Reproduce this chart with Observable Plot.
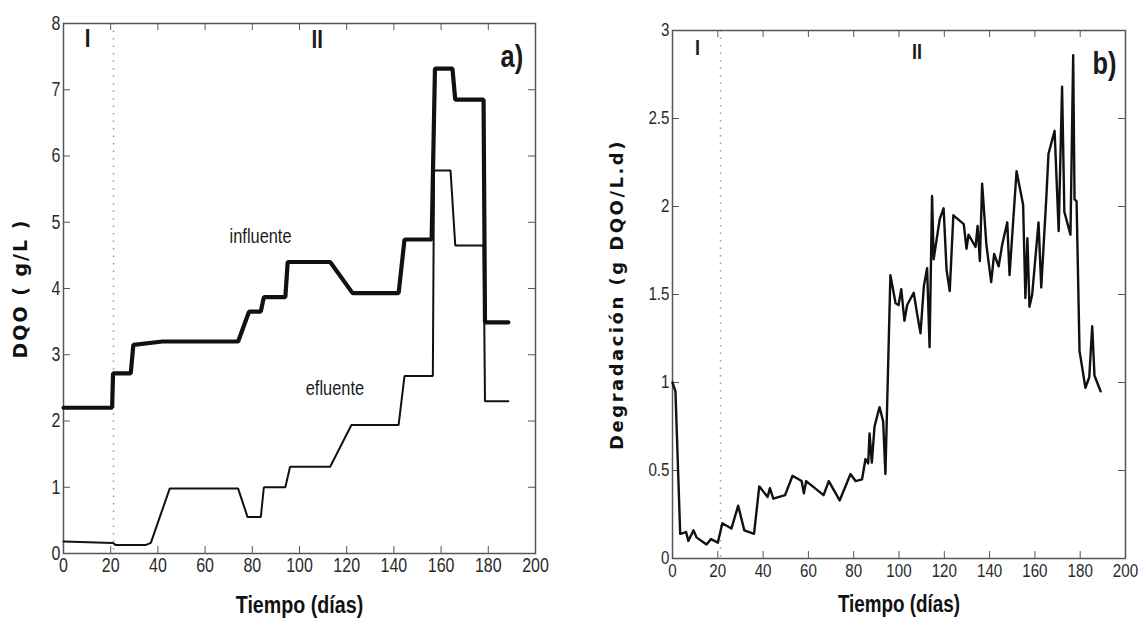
<!DOCTYPE html>
<html>
<head>
<meta charset="utf-8">
<script src="https://cdn.jsdelivr.net/npm/d3@7"></script>
<script src="https://cdn.jsdelivr.net/npm/@observablehq/plot@0.6"></script>
<style>
  html, body { margin: 0; padding: 0; background: #fff; }
  #wrap { position: relative; width: 1140px; height: 624px; overflow: hidden; background: #fff; }
  #wrap > div { position: absolute; top: 0; }
  #pa { left: 0; }
  #pb { left: 570px; }
</style>
</head>
<body>
<div id="wrap"><div id="pa"></div><div id="pb"></div></div>
<script>
// ---------- data ----------
const xTicks = [0, 20, 40, 60, 80, 100, 120, 140, 160, 180, 200];
const yTicksA = [0, 1, 2, 3, 4, 5, 6, 7, 8];
const yTicksB = [0, 0.5, 1, 1.5, 2, 2.5, 3];
const phaseBoundary = [21.2];

// panel a) influente (DQO g/L)
const infDays   = [0, 20.6, 21, 28.5, 29.6, 42, 74, 78.6, 83.6, 84.9, 94, 95, 113, 122.5, 142, 144.5, 156, 157.4, 164.8, 166, 178, 178.6, 188.5];
const infValues = [2.2, 2.2, 2.72, 2.72, 3.15, 3.2, 3.2, 3.65, 3.65, 3.87, 3.87, 4.4, 4.4, 3.93, 3.93, 4.74, 4.74, 7.32, 7.32, 6.85, 6.85, 3.49, 3.49];
// panel a) efluente (DQO g/L)
const effDays   = [0, 21, 22, 35, 37, 45, 74, 78, 83.6, 84.9, 94, 96, 113, 122, 142, 144.5, 156.5, 157, 164, 166, 178, 178.6, 188.5];
const effValues = [0.18, 0.16, 0.13, 0.13, 0.16, 0.98, 0.98, 0.55, 0.55, 1.0, 1.0, 1.31, 1.31, 1.94, 1.94, 2.68, 2.68, 5.78, 5.78, 4.65, 4.65, 2.3, 2.3];

// panel b) degradación (g DQO/L.d)
const degDays = [0, 1.3, 3.4, 6, 7, 9.3, 10.6, 15, 17, 20, 22, 26, 29, 31.7, 36, 38.3, 42, 43, 44.5, 49.7, 53, 57, 58, 59, 66.7, 69, 73.8, 78.6, 80.8, 83.7, 85.2, 86.4, 87, 88, 89.2, 91.4, 93, 94, 96.2, 98.5, 99.8, 101, 102.4, 103.6, 106.5, 108, 109.5, 111, 112.4, 113.5, 114.6, 115.3, 118, 119.7, 121, 122.4, 124, 128.6, 129.8, 130.7, 133.8, 134.7, 135.7, 136.7, 138.6, 140.7, 142, 144, 145.5, 147.8, 148.8, 151.9, 154.8, 155.8, 156.7, 157.6, 158.8, 161.6, 162.8, 165, 166, 168.7, 170.5, 172, 173, 175.7, 176.9, 177.5, 178.4, 179.7, 182.3, 184, 185.3, 186.3, 189];
const degValues = [1.0, 0.95, 0.14, 0.15, 0.10, 0.16, 0.12, 0.08, 0.11, 0.09, 0.20, 0.17, 0.30, 0.16, 0.14, 0.41, 0.35, 0.40, 0.34, 0.36, 0.47, 0.44, 0.37, 0.44, 0.36, 0.44, 0.33, 0.48, 0.44, 0.45, 0.565, 0.54, 0.71, 0.545, 0.75, 0.86, 0.78, 0.48, 1.61, 1.45, 1.44, 1.53, 1.35, 1.44, 1.51, 1.39, 1.28, 1.55, 1.65, 1.20, 2.06, 1.70, 1.93, 1.99, 1.64, 1.52, 1.95, 1.90, 1.76, 1.84, 1.77, 1.89, 1.69, 2.13, 1.78, 1.57, 1.73, 1.66, 1.78, 1.91, 1.61, 2.20, 2.01, 1.48, 1.82, 1.43, 1.50, 1.91, 1.54, 2.04, 2.30, 2.43, 1.86, 2.68, 1.97, 1.84, 2.86, 2.04, 2.03, 1.18, 0.97, 1.03, 1.32, 1.04, 0.95];

// annotations
const notesA = [
  {t: "I", x: 10.2, y: 7.76, size: 25, weight: "bold"},
  {t: "II", x: 107.5, y: 7.75, size: 25, weight: "bold"},
  {t: "a)", x: 190, y: 7.5, size: 31, weight: "bold"},
  {t: "influente", x: 83.5, y: 4.78, size: 20, weight: "normal"},
  {t: "efluente", x: 115, y: 2.49, size: 20, weight: "normal"}
];
const notesB = [
  {t: "I", x: 11, y: 2.9, size: 22, weight: "bold"},
  {t: "II", x: 108, y: 2.88, size: 22, weight: "bold"},
  {t: "b)", x: 190.7, y: 2.81, size: 31, weight: "bold"}
];

const xLabel = "Tiempo (días)";
const yLabelA = "DQO ( g/L )";
const yLabelB = "Degradación (g DQO/L.d)";

// ---------- tables ----------
const inf = infDays.map((d, i) => ({day: d, v: infValues[i]}));
const eff = effDays.map((d, i) => ({day: d, v: effValues[i]}));
const deg = degDays.map((d, i) => ({day: d, v: degValues[i]}));

const COND = "'Liberation Sans', Arial, sans-serif";   // narrowed below (condensed look)
const WIDE = "'DejaVu Sans', Verdana, sans-serif";
const NARROW = 0.82;

function panel({ml, mr, mt, mb, yDomain, yTicks, yLabel, yLabelDx, yLabelSize, xLabelDy, xLabelSize, lines, notes, tickFont}) {
  const W = 570, H = 624;
  const iw = W - ml - mr, ih = H - mt - mb, tl = 7;
  const noteMarks = notes.map(n => Plot.text([n], {
    x: "x", y: "y", text: "t", fontSize: n.size, fontWeight: n.weight,
    fontFamily: COND, fill: "#1a1a1a"
  }));
  return Plot.plot({
    width: W, height: H,
    marginLeft: ml, marginRight: mr, marginTop: mt, marginBottom: mb,
    style: {fontFamily: COND, fontSize: tickFont + "px", color: "#2a2a2a", background: "transparent", overflow: "visible"},
    x: {domain: [0, 200], ticks: xTicks, tickSize: 0, tickPadding: 5, label: null, tickFormat: d => String(d)},
    y: {domain: yDomain, ticks: yTicks, tickSize: 0, tickPadding: 3, label: null, tickFormat: d => String(d)},
    marks: [
      Plot.ruleX(phaseBoundary, {stroke: "#9a9a9a", strokeWidth: 1.5, strokeDasharray: "1.5,6"}),
      Plot.tickX(xTicks, {x: d => d, insetTop: ih - tl, stroke: "#555"}),
      Plot.tickX(xTicks, {x: d => d, insetBottom: ih - tl, stroke: "#555"}),
      Plot.tickY(yTicks, {y: d => d, insetRight: iw - tl, stroke: "#555"}),
      Plot.tickY(yTicks, {y: d => d, insetLeft: iw - tl, stroke: "#555"}),
      Plot.frame({stroke: "#555", strokeWidth: 1.5}),
      ...lines,
      ...noteMarks,
      Plot.text([xLabel], {text: d => d, frameAnchor: "bottom", textAnchor: "middle", dy: xLabelDy, fontSize: xLabelSize, fontWeight: "bold", fontFamily: COND, fill: "#111"}),
      Plot.text([yLabel], {text: d => d, frameAnchor: "left", textAnchor: "middle", dx: yLabelDx, rotate: -90, fontSize: yLabelSize, fontWeight: "bold", fontFamily: WIDE, fill: "#111"})
    ]
  });
}

// give the condensed-Helvetica look of the original: narrow every upright text,
// and letter-space the rotated (wide) y labels
function styleTexts(svg, spacing) {
  svg.querySelectorAll("text").forEach(t => {
    const tr = t.getAttribute("transform") || "";
    if (tr.includes("rotate")) {
      t.style.letterSpacing = spacing;
    } else {
      t.setAttribute("transform", tr + ` scale(${NARROW},1)`);
    }
  });
}

const chartA = panel({
  ml: 63, mr: 35, mt: 23, mb: 71,
  yDomain: [0, 8], yTicks: yTicksA, yLabel: yLabelA, yLabelDx: -43, yLabelSize: 19,
  xLabelDy: 59, xLabelSize: 24, tickFont: 19.5,
  lines: [
    Plot.line(inf, {x: "day", y: "v", stroke: "#111", strokeWidth: 4.2, strokeLinejoin: "miter"}),
    Plot.line(eff, {x: "day", y: "v", stroke: "#111", strokeWidth: 2, strokeLinejoin: "miter"})
  ],
  notes: notesA
});
styleTexts(chartA, "2px");
document.getElementById("pa").appendChild(chartA);

const chartB = panel({
  ml: 102, mr: 15, mt: 30, mb: 66,
  yDomain: [0, 3], yTicks: yTicksB, yLabel: yLabelB, yLabelDx: -55, yLabelSize: 18,
  xLabelDy: 53, xLabelSize: 23, tickFont: 18.5,
  lines: [
    Plot.line(deg, {x: "day", y: "v", stroke: "#111", strokeWidth: 2.4, strokeLinejoin: "round"})
  ],
  notes: notesB
});
styleTexts(chartB, "2.5px");
document.getElementById("pb").appendChild(chartB);
</script>
</body>
</html>
